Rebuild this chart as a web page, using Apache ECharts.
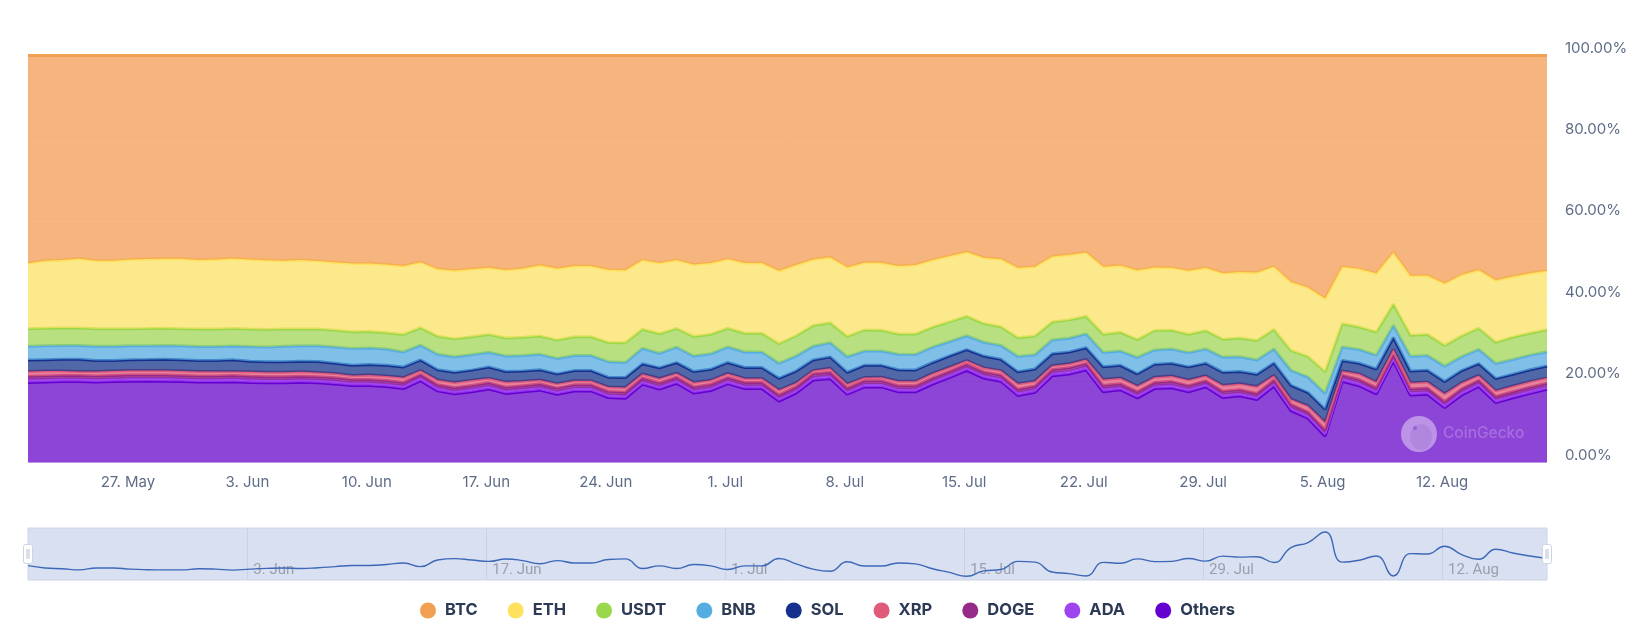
<!DOCTYPE html>
<html>
<head>
<meta charset="utf-8">
<title>Market share</title>
<script src="https://cdn.jsdelivr.net/npm/echarts@6/dist/echarts.min.js"></script>
<style>
html, body { margin: 0; padding: 0; background: #fff; }
#main { width: 1645px; height: 634px; }
</style>
</head>
<body>
<div id="main"></div>
<script>
// daily readings, 21 May to 18 Aug, share in %
var btc = [51.0,50.4,50.2,49.9,50.4,50.4,50.1,49.9,49.9,49.9,50.2,50.1,49.9,50.1,50.3,50.4,50.2,50.4,50.7,51.0,51.0,51.3,51.7,50.7,52.4,52.8,52.4,52.1,52.7,52.3,51.5,52.3,
    51.7,51.7,52.6,52.8,50.3,51.0,50.3,51.3,50.9,50.0,51.0,51.0,52.8,51.5,50.1,49.6,52.0,50.9,50.9,51.7,51.5,50.2,49.2,48.3,49.7,50.0,52.1,51.9,49.3,49.0,48.3,
    51.8,51.6,52.7,52.1,52.1,52.8,52.1,53.4,53.2,53.3,51.8,55.7,56.9,59.6,51.9,52.4,53.5,48.3,54.1,54.0,56.0,53.8,52.6,55.1,54.2,53.5,52.8];
var eth = [16.1,16.6,16.7,17.0,16.7,16.7,17.0,17.1,17.1,17.2,17.0,17.1,17.2,17.1,17.0,16.8,16.9,16.7,16.7,16.8,16.7,16.8,16.8,16.1,16.5,16.8,16.6,16.4,16.7,16.9,17.4,17.6,
    17.4,17.4,17.9,17.8,17.0,17.4,16.8,17.7,17.5,17.0,17.3,17.3,17.9,17.4,16.2,16.1,17.0,16.5,16.6,16.7,17.0,16.5,16.1,15.8,16.2,16.6,17.2,17.0,16.1,16.0,15.7,
    16.6,16.4,17.0,15.5,15.4,15.6,15.4,16.2,16.2,16.7,15.5,16.8,17.0,18.0,14.0,14.3,14.4,12.7,14.6,14.5,15.2,15.0,14.3,15.2,14.9,14.7,14.5];
var usdt = [4.3,4.3,4.3,4.3,4.3,4.3,4.2,4.2,4.2,4.2,4.3,4.3,4.3,4.3,4.3,4.2,4.1,4.1,4.1,4.1,4.1,4.0,4.3,4.3,4.4,4.4,4.4,4.4,4.4,4.5,4.5,4.5,
    4.6,4.6,4.7,4.9,4.7,4.8,4.6,4.8,4.8,4.6,4.6,4.6,4.8,5.0,5.1,4.9,5.0,5.2,5.1,5.0,5.0,4.9,4.9,4.8,4.6,4.6,4.6,4.6,4.4,4.5,4.3,
    4.5,4.6,4.4,4.8,4.6,4.5,4.5,4.4,4.6,4.8,4.8,4.9,5.0,5.3,5.7,5.5,5.7,5.2,5.2,5.2,5.1,5.1,5.2,5.2,5.5,5.4,5.4];
var bnb = [3.4,3.4,3.4,3.4,3.5,3.5,3.4,3.4,3.4,3.4,3.4,3.4,3.4,3.6,3.6,3.8,3.8,3.9,4.0,4.1,4.0,4.0,3.7,3.6,3.8,3.8,3.8,3.6,3.8,3.8,3.8,3.8,
    3.7,3.7,3.8,3.7,3.8,3.6,3.8,3.8,3.8,3.8,3.8,3.8,3.7,3.7,3.4,3.5,3.8,3.5,3.5,3.8,3.8,3.8,3.5,3.4,3.4,3.4,3.8,3.5,3.4,3.4,3.4,
    3.5,3.5,4.0,3.5,3.5,3.5,3.5,3.7,3.6,3.5,3.4,3.7,3.8,3.9,3.3,3.4,3.4,3.0,3.6,3.6,3.8,3.4,3.5,3.7,3.6,3.6,3.5];
var sol = [2.8,2.8,2.9,3.0,2.7,2.6,2.7,2.7,2.8,2.8,2.7,2.7,2.9,2.6,2.6,2.6,2.6,2.7,2.5,2.5,2.6,2.6,2.6,2.6,2.5,2.5,2.5,2.8,2.6,2.5,2.5,2.4,
    2.5,2.5,2.4,2.4,2.5,2.6,2.6,2.7,2.7,2.7,2.7,2.7,2.9,2.9,2.6,2.8,2.9,3.0,2.9,2.8,2.8,2.7,2.8,2.7,2.9,2.8,2.9,3.0,2.9,2.9,2.9,
    3.1,3.1,3.0,3.2,3.1,3.2,3.1,3.2,3.0,3.0,3.1,3.4,3.3,3.2,2.6,2.6,3.2,2.9,2.9,2.9,3.0,3.0,2.9,3.0,2.9,2.9,2.9];
var xrp = [1.2,1.2,1.1,1.0,1.1,1.1,1.1,1.1,1.1,1.1,1.1,1.1,1.0,1.1,1.1,1.1,1.1,1.0,1.1,1.0,1.1,1.1,1.2,1.0,1.2,1.3,1.3,1.1,1.3,1.1,1.0,1.1,
    1.0,1.0,1.1,1.2,1.0,1.1,1.0,1.1,1.0,1.0,1.0,1.0,1.2,1.0,0.8,1.0,1.0,0.8,0.9,1.1,1.1,1.1,1.0,0.9,1.0,1.1,1.4,1.2,1.0,1.0,1.0,
    1.5,1.4,1.4,1.3,1.4,1.4,1.2,1.5,1.5,1.7,1.1,1.3,1.5,1.9,1.0,1.4,1.4,1.3,1.5,1.5,1.9,1.5,1.2,1.4,1.4,1.4,1.3];
var doge = [0.8,0.8,0.8,0.8,0.8,0.8,0.8,0.8,0.8,0.8,0.8,0.8,0.8,0.8,0.8,0.8,0.8,0.8,0.8,0.8,0.8,0.8,0.8,0.7,0.8,0.8,0.8,0.8,0.8,0.8,0.8,0.8,
    0.8,0.8,0.8,0.8,0.8,0.8,0.8,0.8,0.8,0.8,0.8,0.8,0.8,0.8,0.8,0.8,0.8,0.8,0.8,0.8,0.8,0.8,0.8,0.8,0.8,0.8,0.8,0.8,0.8,0.8,0.8,
    0.8,0.8,0.8,0.8,0.8,0.8,0.8,0.8,0.8,0.8,0.8,0.8,0.8,0.8,0.7,0.8,0.8,0.8,0.8,0.8,0.8,0.8,0.8,0.8,0.8,0.8,0.8];
var ada = [0.7,0.7,0.7,0.7,0.7,0.7,0.7,0.7,0.7,0.7,0.7,0.7,0.7,0.7,0.7,0.7,0.7,0.7,0.7,0.7,0.7,0.7,0.7,0.8,0.7,0.7,0.7,0.7,0.7,0.7,0.7,0.7,
    0.7,0.7,0.7,0.7,0.7,0.7,0.7,0.7,0.7,0.7,0.7,0.7,0.7,0.7,0.7,0.7,0.7,0.7,0.7,0.7,0.7,0.7,0.7,0.7,0.7,0.7,0.7,0.7,0.7,0.7,0.7,
    0.7,0.7,0.7,0.7,0.7,0.7,0.7,0.7,0.7,0.7,0.7,0.7,0.7,0.7,0.8,0.7,0.7,0.7,0.7,0.7,0.7,0.7,0.7,0.7,0.7,0.7,0.7];
var others = [19.7,19.8,19.9,19.9,19.8,19.9,20.0,20.0,20.0,19.9,19.8,19.8,19.9,19.7,19.6,19.6,19.7,19.6,19.3,18.9,18.9,18.7,18.2,20.1,17.6,16.9,17.4,18.1,17.0,17.4,17.8,16.8,
    17.6,17.6,16.0,15.8,19.3,18.1,19.5,17.1,17.7,19.4,18.2,18.2,15.1,17.1,20.3,20.7,16.8,18.6,18.6,17.4,17.4,19.3,20.9,22.7,20.8,20.0,16.5,17.3,21.3,21.8,22.8,
    17.4,17.9,15.9,18.2,18.4,17.4,18.6,16.0,16.4,15.5,18.8,12.8,10.9,6.5,20.0,18.9,16.9,25.0,16.6,16.8,13.5,16.6,18.7,14.7,15.9,17.0,18.0];

var names = ['BTC', 'ETH', 'USDT', 'BNB', 'SOL', 'XRP', 'DOGE', 'ADA', 'Others'];
var values = [btc, eth, usdt, bnb, sol, xrp, doge, ada, others];
var colors = ['#f0a050', '#ffe15e', '#98d84a', '#56ade2', '#16318d', '#e05a7c', '#962a88', '#a044f0', '#6400d0'];
// fills are a bit paler than the lines
var fillColors = ['#f39c53', '#f9e165', '#a0d555', '#55a9e0', '#15348b', '#e05a7c', '#962a88', '#a044f0', '#6507c8'];

var weekTicks = ['2024-05-27', '2024-06-03', '2024-06-10', '2024-06-17', '2024-06-24', '2024-07-01',
    '2024-07-08', '2024-07-15', '2024-07-22', '2024-07-29', '2024-08-05', '2024-08-12'];
var navTicks = ['2024-06-03', '2024-06-17', '2024-07-01', '2024-07-15', '2024-07-29', '2024-08-12'];
var months = ['Jan', 'Feb', 'Mar', 'Apr', 'May', 'Jun', 'Jul', 'Aug', 'Sep', 'Oct', 'Nov', 'Dec'];

// one category per day, stamped a little after midnight in the source
var DAY = 86400000;
var startTime = Date.UTC(2024, 4, 21, 3, 36);
var days = [];
var times = [];
for (var i = 0; i < btc.length; i++) {
    times.push(startTime + i * DAY);
    days.push(new Date(startTime + i * DAY).toISOString().slice(0, 10));
}

// each day is shown as a share of that day's total
var totals = btc.map(function (v, d) {
    var sum = 0;
    values.forEach(function (arr) { sum += arr[d]; });
    return sum;
});

function shares(arr) {
    return arr.map(function (v, d) {
        return v / totals[d] * 100;
    });
}

function toTime(s) {
    return new Date(s + 'T00:00:00Z').getTime();
}

function dateLabel(value) {
    var d = new Date(value);
    return d.getUTCDate() + '. ' + months[d.getUTCMonth()];
}

var series = [];
// bottom band first so BTC ends up on top of the stack
for (var k = names.length - 1; k >= 0; k--) {
    series.push({
        name: names[k],
        type: 'line',
        stack: 'share',
        showSymbol: false,
        symbol: 'none',
        silent: true,
        z: 20 - k,
        itemStyle: { color: colors[k] },
        lineStyle: { color: colors[k], width: 3 },
        areaStyle: { color: fillColors[k], opacity: 0.75 },
        data: shares(values[k])
    });
}
// navigator line follows the BTC share
series.push({
    name: 'navigator',
    type: 'line',
    xAxisIndex: 1,
    yAxisIndex: 1,
    smooth: true,
    symbol: 'none',
    silent: true,
    lineStyle: { color: '#3d68b8', width: 1.4 },
    data: shares(btc).map(function (v, d) { return [times[d], v]; })
});

var myChart = echarts.init(document.getElementById('main'));
var option = {
    animation: false,
    backgroundColor: '#ffffff',
    textStyle: { fontFamily: 'Inter' },
    grid: [
        { left: 28, right: 98, top: 55.6, height: 407 },
        {
            left: 28, right: 98, top: 528, height: 52, show: true,
            backgroundColor: '#d9e0f1', borderColor: '#ccd4e6', borderWidth: 1
        }
    ],
    legend: {
        left: 415,
        top: 597,
        icon: 'circle',
        itemWidth: 16,
        itemHeight: 16,
        itemGap: 30,
        data: names,
        selectedMode: false,
        textStyle: { color: '#2c3a55', fontSize: 16.5, fontWeight: 'bold', fontFamily: 'Inter', padding: [0, 0, 0, 4] }
    },
    xAxis: [
        {
            type: 'category',
            gridIndex: 0,
            boundaryGap: false,
            data: days,
            axisLine: { show: false },
            axisTick: { show: false },
            splitLine: { show: false },
            axisLabel: {
                interval: function (index, value) { return weekTicks.indexOf(value) >= 0; },
                formatter: dateLabel,
                color: '#5e6c87',
                fontSize: 15,
                margin: 12,
                padding: [0, 5, 0, 0]
            }
        },
        {
            type: 'value',
            gridIndex: 1,
            min: times[0],
            max: times[times.length - 1],
            axisLine: { show: false },
            axisTick: { show: false, customValues: navTicks.map(toTime) },
            splitLine: { show: true, lineStyle: { color: '#c9d1e3', width: 1 } },
            axisLabel: {
                inside: true,
                customValues: navTicks.map(toTime),
                formatter: dateLabel,
                color: '#9a9fab',
                fontSize: 15,
                fontFamily: 'Roboto',
                align: 'left',
                margin: 2,
                padding: [0, 0, 0, 6]
            }
        }
    ],
    yAxis: [
        {
            type: 'value',
            gridIndex: 0,
            position: 'right',
            min: 0,
            max: 100,
            interval: 20,
            axisLine: { show: false },
            axisTick: { show: false },
            splitLine: { lineStyle: { color: '#f0f2f6', width: 1 } },
            axisLabel: {
                formatter: function (v) { return v.toFixed(2) + '%'; },
                color: '#5e6c87',
                fontSize: 15,
                margin: 18,
                verticalAlign: 'bottom'
            }
        },
        {
            type: 'value',
            gridIndex: 1,
            min: 47.3,
            max: 60.7,
            show: false
        }
    ],
    graphic: [
        // CoinGecko watermark
        { type: 'circle', shape: { cx: 1419, cy: 434, r: 18 }, style: { fill: 'rgba(255,255,255,0.42)' }, z: 50 },
        { type: 'ellipse', shape: { cx: 1421, cy: 437, rx: 11, ry: 13 }, style: { fill: 'rgba(110,60,180,0.14)' }, z: 51 },
        { type: 'circle', shape: { cx: 1415, cy: 428, r: 2 }, style: { fill: 'rgba(110,60,180,0.45)' }, z: 52 },
        { type: 'text', left: 1443, top: 425, style: { text: 'CoinGecko', fill: 'rgba(255,255,255,0.22)', fontSize: 15.5, fontFamily: 'Inter', fontWeight: 500 }, z: 50 },
        // navigator handles
        { type: 'rect', shape: { x: 23.5, y: 544.5, width: 9, height: 19, r: 2 }, style: { fill: '#ffffff', stroke: '#ccd4e6', lineWidth: 1 }, z: 50 },
        { type: 'rect', shape: { x: 1542.5, y: 544.5, width: 9, height: 19, r: 2 }, style: { fill: '#ffffff', stroke: '#ccd4e6', lineWidth: 1 }, z: 50 },
        { type: 'line', shape: { x1: 27, y1: 549, x2: 27, y2: 559 }, style: { stroke: '#b8c0d0', lineWidth: 1 }, z: 51 },
        { type: 'line', shape: { x1: 29, y1: 549, x2: 29, y2: 559 }, style: { stroke: '#b8c0d0', lineWidth: 1 }, z: 51 },
        { type: 'line', shape: { x1: 1546, y1: 549, x2: 1546, y2: 559 }, style: { stroke: '#b8c0d0', lineWidth: 1 }, z: 51 },
        { type: 'line', shape: { x1: 1548, y1: 549, x2: 1548, y2: 559 }, style: { stroke: '#b8c0d0', lineWidth: 1 }, z: 51 }
    ],
    series: series
};
myChart.setOption(option);
</script>
</body>
</html>
